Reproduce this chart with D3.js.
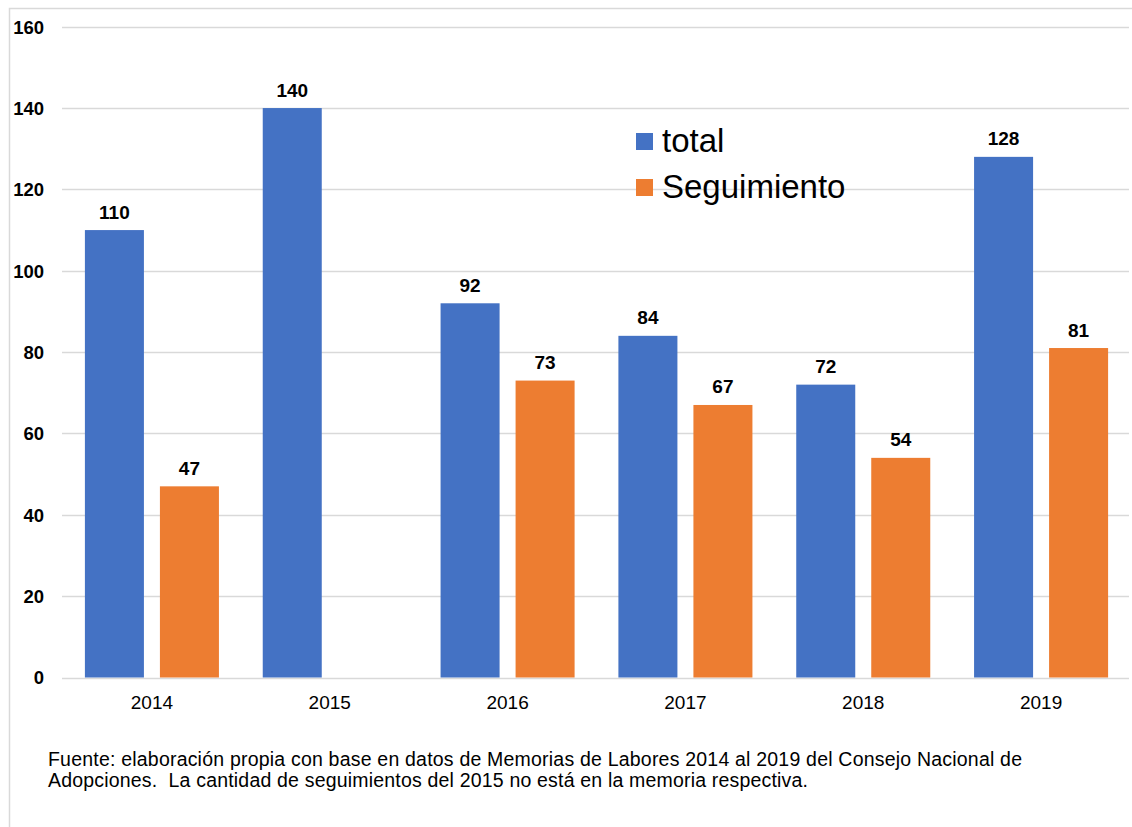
<!DOCTYPE html>
<html>
<head>
<meta charset="utf-8">
<script src="https://cdn.jsdelivr.net/npm/d3@7"></script>
<style>
  html, body { margin: 0; padding: 0; background: #fff; }
  svg { display: block; font-family: "Liberation Sans", Arial, sans-serif; }
</style>
</head>
<body>
<svg id="chart" width="1132" height="827"></svg>
<script>
// Adoptions per year: total vs. follow-ups (2015 follow-ups not reported)
const years = ["2014", "2015", "2016", "2017", "2018", "2019"];
const totalValues = [110, 140, 92, 84, 72, 128];
const seguimientoValues = [47, null, 73, 67, 54, 81];
const yTicks = [0, 20, 40, 60, 80, 100, 120, 140, 160];
const seriesNames = ["total", "Seguimiento"];
const seriesColors = ["#4472C4", "#ED7D31"];
const footnoteLines = [
  "Fuente: elaboración propia con base en datos de Memorias de Labores 2014 al 2019 del Consejo Nacional de",
  "Adopciones.  La cantidad de seguimientos del 2015 no está en la memoria respectiva."
];
const footnoteWidths = [974, 760];

const svg = d3.select("#chart");

// Outer frame (only top and left edges fall inside the canvas)
svg.append("path")
  .attr("d", "M9.5,827 V8.5 H1132")
  .attr("fill", "none")
  .attr("stroke", "#d9d9d9")
  .attr("stroke-width", 1.5);

const plot = { left: 62, right: 1129, top: 26.7, bottom: 677.5 };

const x = d3.scaleBand().domain(years).range([plot.left + 1, plot.right + 1]).padding(0);
const xInner = d3.scaleBand().domain(seriesNames).range([0, x.bandwidth()])
  .paddingInner(0.2133).paddingOuter(0.292);
const y = d3.scaleLinear().domain([0, 160]).range([plot.bottom, plot.top]);

// Horizontal gridlines
svg.append("g")
  .selectAll("line")
  .data(yTicks)
  .join("line")
  .attr("x1", plot.left)
  .attr("x2", plot.right)
  .attr("y1", d => Math.round(y(d)) + 0.5)
  .attr("y2", d => Math.round(y(d)) + 0.5)
  .attr("stroke", "#d9d9d9")
  .attr("stroke-width", 1.3);

// Y axis labels
const yAxis = d3.axisLeft(y).tickValues(yTicks).tickSize(0).tickPadding(0);
const yg = svg.append("g").attr("transform", "translate(44,0)").call(yAxis);
yg.select(".domain").remove();
yg.selectAll("text")
  .attr("font-family", "Liberation Sans, Arial, sans-serif")
  .attr("font-size", "18.5px")
  .attr("font-weight", "bold")
  .attr("fill", "#000")
  .attr("dy", "0.35em");

// X axis labels
const xAxis = d3.axisBottom(x).tickSize(0).tickPadding(0);
const xg = svg.append("g").attr("transform", `translate(0,${plot.bottom})`).call(xAxis);
xg.select(".domain").remove();
xg.selectAll("text")
  .attr("font-family", "Liberation Sans, Arial, sans-serif")
  .attr("font-size", "19px")
  .attr("fill", "#000")
  .attr("y", 31)
  .attr("dy", 0);

// Bars and value labels
const rows = years.map((yr, i) => ({ year: yr, values: [totalValues[i], seguimientoValues[i]] }));
const groups = svg.append("g").selectAll("g")
  .data(rows)
  .join("g")
  .attr("transform", d => `translate(${x(d.year)},0)`);

const cells = groups.selectAll("g")
  .data(d => d.values.map((v, j) => ({ series: seriesNames[j], color: seriesColors[j], value: v }))
    .filter(c => c.value !== null))
  .join("g");

cells.append("rect")
  .attr("x", d => xInner(d.series))
  .attr("width", xInner.bandwidth())
  .attr("y", d => y(d.value))
  .attr("height", d => y(0) - y(d.value))
  .attr("fill", d => d.color);

cells.append("text")
  .attr("x", d => xInner(d.series) + xInner.bandwidth() / 2)
  .attr("y", d => y(d.value) - 11.5)
  .attr("text-anchor", "middle")
  .attr("font-size", "19px")
  .attr("font-weight", "bold")
  .attr("fill", "#000")
  .text(d => d.value);

// Legend
const legend = svg.append("g").attr("transform", "translate(636,0)");
const legendRows = legend.selectAll("g")
  .data(seriesNames.map((n, i) => ({ name: n, color: seriesColors[i], base: [152, 198][i] })))
  .join("g");
legendRows.append("rect")
  .attr("x", 0)
  .attr("y", d => d.base - 19)
  .attr("width", 17)
  .attr("height", 17)
  .attr("fill", d => d.color);
legendRows.append("text")
  .attr("x", 26)
  .attr("y", d => d.base)
  .attr("font-size", "33px")
  .attr("fill", "#000")
  .text(d => d.name);

// Source note
svg.append("g").selectAll("text")
  .data(footnoteLines)
  .join("text")
  .attr("x", 48)
  .attr("y", (d, i) => 766 + i * 21)
  .attr("font-size", "19.5px")
  .attr("fill", "#000")
  .attr("xml:space", "preserve")
  .style("white-space", "pre")
  .attr("textLength", (d, i) => footnoteWidths[i])
  .attr("lengthAdjust", "spacing")
  .text(d => d);
</script>
</body>
</html>
